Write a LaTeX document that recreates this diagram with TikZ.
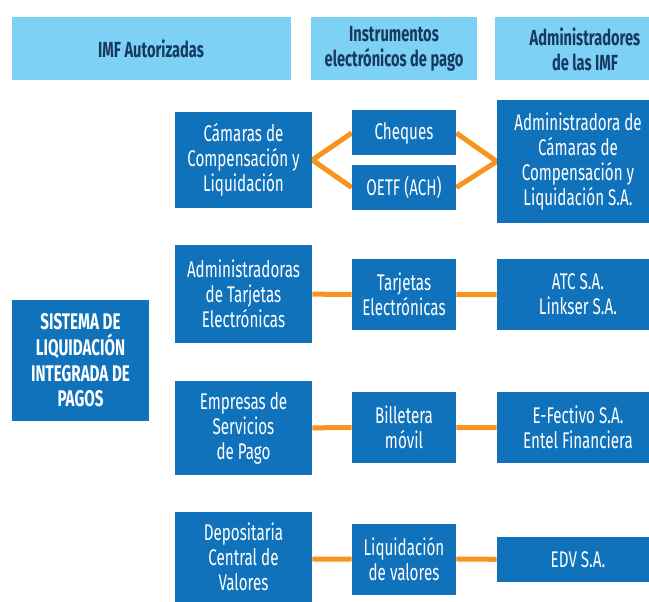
\documentclass[tikz,border=0pt]{standalone}
\usepackage{fontspec}
\setmainfont[FakeStretch=0.67]{Fira Sans}
\usetikzlibrary{backgrounds}
\definecolor{cajaazul}{HTML}{1172BC}
\definecolor{cabecera}{HTML}{7DD1F5}
\definecolor{textonavy}{HTML}{163A5F}
\definecolor{naranja}{HTML}{F7941D}
\tikzset{
  tam/.style 2 args={minimum width=#1*0.75pt, minimum height=#2*0.75pt},
  caja/.style={fill=cajaazul, text=white, align=center, inner sep=0pt,
    font=\fontsize{17}{18.75}\selectfont},
  cabeza/.style={fill=cabecera, text=textonavy, align=center, inner sep=0pt,
    font=\bfseries\fontsize{16.4}{18.75}\selectfont},
  enlace/.style={draw=naranja, line width=3.75pt},
}
\begin{document}
\begin{tikzpicture}[x=0.75pt,y=-0.75pt]
\useasboundingbox (0,0) rectangle (649,602);
% encabezados
\node[cabeza,tam={279}{63}] (imf) at (151,49) {IMF Autorizadas};
\node[cabeza,tam={166}{63}] (instr) at (394,49) {Instrumentos\\electrónicos de pago};
\node[cabeza,tam={180}{63}] (admimf) at (585,49) {Administradores\\de las IMF};
% sistema
\node[caja,tam={137}{121},font=\bfseries\fontsize{17}{19.25}\selectfont] (slip) at (80.5,360.5)
  {SISTEMA DE\\LIQUIDACIÓN\\INTEGRADA DE\\PAGOS};
% camaras
\node[caja,tam={137}{96}] (camaras) at (243.5,160) {Cámaras de\\Compensación y\\Liquidación};
\node[caja,tam={104}{45}] (cheques) at (404,133) {Cheques};
\node[caja,tam={104}{45}] (oetf) at (404,187.5) {OETF (ACH)};
\node[caja,tam={162}{123}] (accl) at (578,161.5) {Administradora de\\Cámaras de\\Compensación y\\Liquidación S.A.};
% tarjetas
\node[caja,tam={137}{98}] (admtarj) at (243.5,294) {Administradoras\\de Tarjetas\\Electrónicas};
\node[caja,tam={104}{71}] (tarjetas) at (404,294.5) {Tarjetas\\Electrónicas};
\node[caja,tam={162}{71}] (atc) at (578,294.5) {ATC S.A.\\Linkser S.A.};
% billetera
\node[caja,tam={137}{94}] (empresas) at (243.5,428) {Empresas de\\Servicios\\de Pago};
\node[caja,tam={104}{71}] (billetera) at (404,427.5) {Billetera\\móvil};
\node[caja,tam={162}{71}] (efectivo) at (578,427.5) {E-Fectivo S.A.\\Entel Financiera};
% valores
\node[caja,tam={137}{90}] (edv) at (243.5,557) {Depositaria\\Central de\\Valores};
\node[caja,tam={104}{71}] (liqval) at (404,559) {Liquidación\\de valores};
\node[caja,tam={162}{45}] (edvsa) at (578,559.5) {EDV S.A.};
% enlaces
\begin{scope}[on background layer]
  \draw[enlace] (cheques.west) -- (camaras.east) -- (oetf.west);
  \draw[enlace] (cheques.east) -- (accl.west) -- (oetf.east);
  \draw[enlace] (admtarj) -- (tarjetas) -- (atc);
  \draw[enlace] (empresas) -- (billetera) -- (efectivo);
  \draw[enlace] (edv.east |- liqval) -- (liqval) -- (edvsa);
\end{scope}
\end{tikzpicture}
\end{document}
